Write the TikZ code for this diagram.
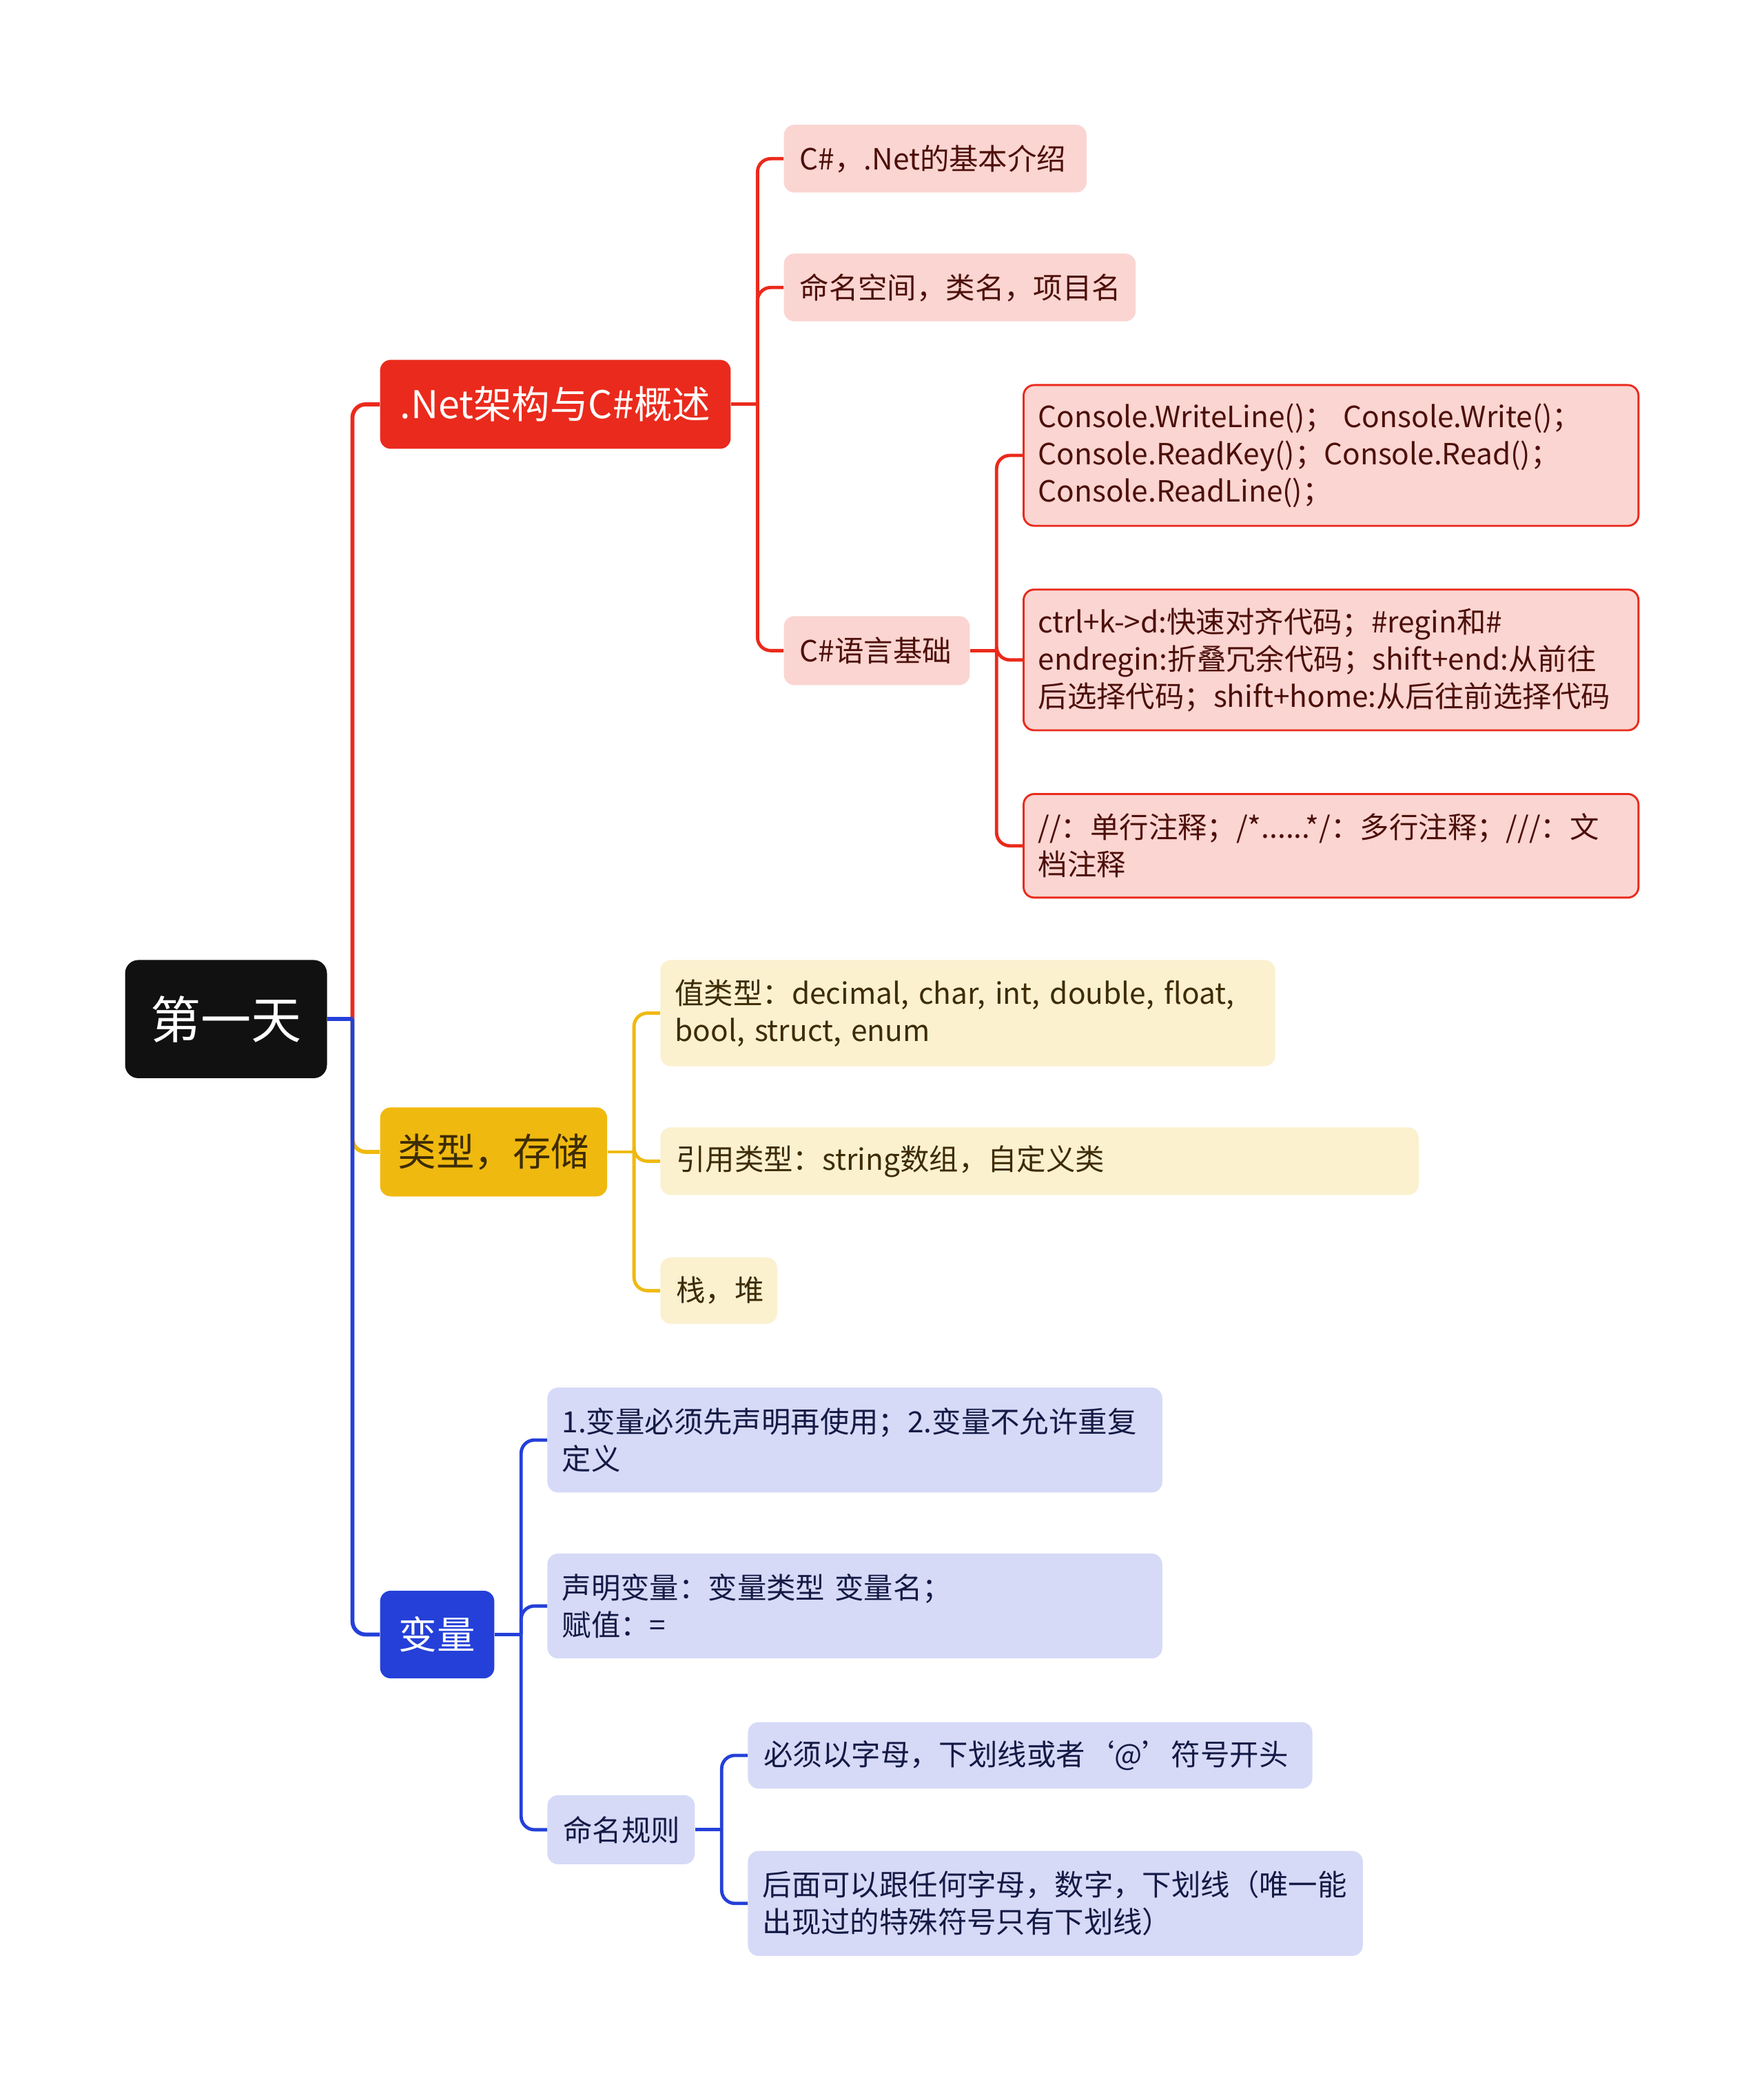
\documentclass[tikz,border=0pt]{standalone}
\usepackage{fontspec}
\setmainfont{Noto Sans CJK SC}
\usetikzlibrary{positioning}
\definecolor{rootc}{RGB}{17,17,17}
\definecolor{redc}{RGB}{234,42,28}
\definecolor{yelc}{RGB}{240,185,15}
\definecolor{bluc}{RGB}{36,64,216}
\definecolor{pinkc}{RGB}{250,213,209}
\definecolor{creamc}{RGB}{251,241,207}
\definecolor{lavc}{RGB}{214,218,247}
\definecolor{redtx}{RGB}{77,15,10}
\definecolor{yeltx}{RGB}{61,44,5}
\definecolor{blutx}{RGB}{20,26,69}

\begin{document}
\begin{tikzpicture}[x=1pt, y=-1pt,
  base/.style={anchor=west, rounded corners=8pt, inner xsep=12pt, inner ysep=0pt},
  top/.style={base, fill=rootc, text=white, align=center, rounded corners=10pt,
              font=\fontsize{38}{44}\selectfont},
  main/.style={base, align=center, font=\fontsize{28.8}{34}\selectfont},
  leaf/.style={base, align=left, font=\fontsize{22}{28}\selectfont},
  lr/.style={leaf, fill=pinkc, text=redtx},
  lrb/.style={lr, draw=redc, line width=1.5pt},
  ly/.style={leaf, fill=creamc, text=yeltx},
  lb/.style={leaf, fill=lavc, text=blutx},
  wr/.style={draw=redc, line width=3pt, rounded corners=10pt},
  wy/.style={draw=yelc, line width=3pt, rounded corners=10pt},
  wb/.style={draw=bluc, line width=3pt, rounded corners=10pt},
  cr/.style={wr, line width=2.5pt},
  cy/.style={wy, line width=2.5pt},
  cb/.style={wb, line width=2.5pt}
]
\useasboundingbox (0,0) rectangle (1328,1568);

\node[top, text width=128pt, minimum height=89pt] (day) at (94,767.5) {第一天};

\node[main, fill=redc, text=white, text width=240pt, minimum height=67pt] (net) at (286,304.5) {.Net架构与C\#概述};
\node[main, fill=yelc, text=yeltx, text width=147pt, minimum height=67pt] (typ) at (286,867.5) {类型，存储};
\node[main, fill=bluc, text=white, text width=62pt, minimum height=66pt] (var) at (286,1231) {变量};

\node[lr, text width=204pt, minimum height=51pt] (intro) at (590,119.5) {C\#，.Net的基本介绍};
\node[lr, text width=241pt, minimum height=51pt] (names) at (590,216.5) {命名空间，类名，项目名};
\node[lr, text width=116pt, minimum height=52pt] (lang) at (590,490) {C\#语言基础};

\node[lrb, text width=441pt, inner xsep=11pt, minimum height=106pt] (io) at (770,343)
  {Console.WriteLine()； Console.Write()；\\Console.ReadKey()；Console.Read()；\\Console.ReadLine()；};
\node[lrb, text width=441pt, inner xsep=11pt, minimum height=106pt] (keys) at (770,497)
  {ctrl+k->d:快速对齐代码；\#regin和\#\\endregin:折叠冗余代码；shift+end:从前往\\后选择代码；shift+home:从后往前选择代码};
\node[lrb, text width=441pt, inner xsep=11pt, minimum height=78pt] (cmt) at (770,637)
  {//：单行注释；/*......*/：多行注释；///：文\\档注释};

\node[ly, text width=441pt, inner xsep=11pt, minimum height=80pt] (val) at (497,763)
  {值类型：decimal, char, int, double, float,\\bool, struct, enum};
\node[ly, text width=547pt, minimum height=51pt] (ref) at (497,874.5) {引用类型：string数组，自定义类};
\node[ly, text width=64pt, minimum height=50pt] (mem) at (497,972) {栈，堆};

\node[lb, text width=441pt, inner xsep=11pt, minimum height=79pt] (decl) at (412,1084.5)
  {1.变量必须先声明再使用；2.变量不允许重复\\定义};
\node[lb, text width=441pt, inner xsep=11pt, minimum height=79pt] (asg) at (412,1209.5)
  {声明变量：变量类型 变量名；\\赋值：=};
\node[lb, text width=87pt, minimum height=52pt] (rule) at (412,1378) {命名规则};

\node[lb, text width=401pt, minimum height=50pt] (first) at (563,1322) {必须以字母，下划线或者‘@’符号开头};
\node[lb, text width=441pt, inner xsep=11pt, minimum height=79pt] (rest) at (563,1433.5)
  {后面可以跟任何字母，数字，下划线（唯一能\\出现过的特殊符号只有下划线）};

\coordinate (hub) at ([xshift=19pt]day.east);
\draw[wr] (hub) |- (net.west);
\draw[wy] (hub) |- (typ.west);
\draw[wb] (hub) |- (var.west);
\draw[wb, rounded corners=0pt] (day.east) -- (hub);

\draw[cr] (net.east) -- ++(20,0) coordinate (jnet);
\foreach \c in {intro, names, lang} \draw[cr] (jnet) |- (\c.west);
\draw[cr] (lang.east) -- ++(20,0) coordinate (jlang);
\foreach \c in {io, keys, cmt} \draw[cr] (jlang) |- (\c.west);

\draw[cy] (typ.east) -- ++(20,0) coordinate (jtyp);
\foreach \c in {val, ref, mem} \draw[cy] (jtyp) |- (\c.west);

\draw[cb] (var.east) -- ++(20,0) coordinate (jvar);
\foreach \c in {decl, asg, rule} \draw[cb] (jvar) |- (\c.west);
\draw[cb] (rule.east) -- ++(20,0) coordinate (jrule);
\foreach \c in {first, rest} \draw[cb] (jrule) |- (\c.west);
\end{tikzpicture}
\end{document}
